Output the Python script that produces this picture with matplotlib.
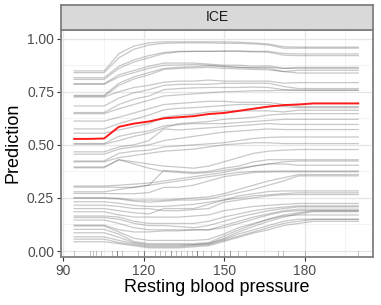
import matplotlib
matplotlib.use("Agg")
import matplotlib.pyplot as plt
from matplotlib.patches import Rectangle

# grid of blood pressure values at which ICE curves are evaluated
bp_grid = [94.0, 99.6, 105.2, 110.7, 116.3, 121.9, 127.5, 133.1, 138.6, 144.2,
           149.8, 155.4, 160.9, 166.5, 172.1, 177.7, 183.3, 188.8, 194.4, 200.0]

ice_curves = [
    [.848,.848,.848,.93,.965,.98,.985,.985,.985,.985,.985,.983,.98,.975,.962,.96,.96,.96,.96,.96],
    [.840,.840,.840,.91,.95,.97,.978,.98,.98,.98,.978,.978,.975,.97,.955,.955,.955,.955,.955,.955],
    [.816,.816,.816,.87,.90,.92,.935,.94,.94,.94,.942,.942,.94,.94,.93,.928,.928,.928,.928,.928],
    [.808,.808,.808,.86,.89,.91,.93,.938,.94,.94,.94,.94,.938,.936,.922,.92,.92,.92,.92,.92],
    [.788,.788,.788,.83,.85,.87,.885,.885,.885,.88,.875,.875,.87,.872,.86,.865,.865,.865,.865,.865],
    [.785,.785,.785,.82,.84,.86,.875,.876,.878,.875,.87,.865,.863,.865,.86,.86,.86,.86,.86,.86],
    [.733,.733,.733,.79,.82,.84,.86,.865,.868,.872,.868,.865,.862,.86,.845,.838,.838,.838,.838,.838],
    [.729,.729,.729,.78,.81,.83,.855,.86,.862,.865,.86,.858,.855,.853,.845,.851,.851,.851,.851,.851],
    [.725,.725,.725,.75,.77,.78,.795,.80,.80,.805,.80,.80,.80,.80,.79,.793,.793,.793,.793,.793],
    [.683,.683,.683,.72,.745,.76,.78,.785,.785,.785,.79,.79,.79,.79,.775,.765,.765,.765,.765,.765],
    [.652,.652,.652,.69,.715,.73,.76,.765,.768,.77,.77,.77,.772,.77,.76,.757,.757,.757,.757,.757],
    [.647,.647,.647,.67,.69,.71,.73,.735,.74,.745,.75,.752,.755,.755,.757,.757,.757,.757,.757,.757],
    [.612,.612,.612,.63,.65,.67,.69,.695,.70,.705,.705,.70,.70,.70,.69,.68,.68,.68,.68,.68],
    [.575,.575,.575,.60,.62,.64,.665,.672,.675,.68,.685,.69,.69,.69,.68,.675,.675,.675,.675,.675],
    [.555,.555,.555,.57,.585,.60,.63,.64,.645,.655,.66,.66,.66,.66,.655,.663,.663,.663,.663,.663],
    [.503,.503,.503,.52,.54,.555,.58,.60,.605,.61,.62,.625,.63,.64,.645,.647,.647,.647,.647,.647],
    [.506,.506,.506,.54,.555,.565,.59,.595,.60,.60,.60,.605,.61,.615,.62,.62,.62,.62,.62,.62],
    [.467,.467,.467,.49,.50,.52,.575,.57,.575,.58,.585,.59,.595,.60,.596,.596,.596,.596,.596,.596],
    [.456,.456,.456,.48,.49,.50,.52,.53,.54,.55,.56,.565,.57,.575,.572,.572,.572,.572,.572,.572],
    [.424,.424,.424,.46,.47,.475,.49,.495,.50,.505,.51,.52,.53,.535,.537,.537,.537,.537,.537,.537],
    [.420,.420,.420,.44,.45,.46,.47,.475,.48,.49,.50,.505,.51,.51,.506,.506,.506,.506,.506,.506],
    [.396,.396,.396,.43,.41,.39,.375,.37,.365,.37,.38,.39,.40,.41,.42,.424,.424,.424,.424,.424],
    [.392,.392,.392,.43,.42,.41,.40,.395,.39,.40,.42,.44,.46,.47,.475,.478,.478,.478,.478,.478],
    [.306,.306,.306,.31,.315,.32,.33,.34,.35,.36,.37,.385,.40,.41,.41,.404,.404,.404,.404,.404],
    [.301,.301,.301,.30,.30,.31,.38,.375,.37,.375,.39,.40,.42,.43,.43,.43,.43,.43,.43,.43],
    [.279,.279,.279,.29,.30,.31,.32,.33,.34,.35,.36,.37,.375,.376,.377,.377,.377,.377,.377,.377],
    [.271,.271,.271,.27,.27,.275,.30,.30,.31,.33,.35,.36,.37,.372,.373,.373,.373,.373,.373,.373],
    [.252,.252,.252,.248,.24,.24,.24,.245,.25,.255,.27,.29,.31,.33,.345,.36,.36,.36,.36,.36],
    [.248,.248,.248,.245,.235,.23,.235,.24,.24,.245,.26,.275,.29,.31,.33,.354,.354,.354,.354,.354],
    [.232,.232,.232,.225,.215,.21,.21,.215,.22,.23,.24,.25,.26,.265,.27,.274,.274,.274,.274,.274],
    [.216,.216,.216,.21,.20,.20,.19,.19,.195,.20,.23,.24,.25,.26,.265,.266,.266,.266,.266,.266],
    [.200,.200,.200,.19,.18,.175,.20,.20,.20,.22,.24,.26,.27,.28,.283,.283,.283,.283,.283,.283],
    [.185,.185,.185,.17,.16,.16,.16,.16,.165,.17,.19,.20,.21,.215,.22,.224,.224,.224,.224,.224],
    [.165,.165,.165,.16,.14,.13,.13,.13,.13,.14,.16,.175,.19,.20,.207,.213,.213,.213,.213,.213],
    [.158,.158,.158,.15,.13,.12,.12,.115,.11,.12,.14,.16,.175,.19,.20,.208,.208,.208,.208,.208],
    [.146,.146,.146,.13,.11,.10,.10,.10,.10,.10,.12,.14,.16,.175,.19,.197,.197,.197,.197,.197],
    [.122,.122,.122,.10,.09,.09,.095,.095,.10,.10,.11,.13,.15,.17,.185,.19,.19,.19,.19,.19],
    [.118,.118,.118,.09,.06,.05,.05,.05,.05,.055,.08,.11,.13,.15,.165,.17,.17,.17,.17,.17],
    [.102,.102,.102,.08,.045,.035,.035,.035,.035,.04,.07,.10,.125,.15,.17,.18,.19,.19,.19,.19],
    [.086,.086,.086,.065,.04,.03,.03,.03,.03,.035,.06,.09,.115,.14,.16,.175,.185,.185,.185,.185],
    [.067,.067,.067,.05,.035,.025,.025,.025,.03,.035,.055,.08,.10,.12,.14,.15,.15,.15,.15,.15],
    [.056,.056,.056,.04,.03,.02,.02,.02,.025,.03,.05,.07,.09,.11,.13,.14,.149,.149,.149,.149],
    [.044,.044,.044,.035,.025,.015,.015,.015,.02,.025,.045,.065,.085,.10,.12,.13,.14,.14,.14,.14],
]

pdp_curve = [.528,.528,.530,.585,.60,.61,.625,.63,.635,.645,.65,.66,.67,.68,.687,.69,.695,.695,.695,.695]

rug_values = [94, 100, 101, 102, 104, 108, 110, 110, 110, 112, 118, 120, 120, 120, 124,
              126, 128, 130, 130, 132, 134, 136, 138, 140, 140, 140, 142, 145, 148, 150,
              152, 152, 155, 158, 170, 172, 180, 200]

x_ticks = [90, 120, 150, 180]
y_ticks = [0.00, 0.25, 0.50, 0.75, 1.00]
y_ticklabels = ["0.00", "0.25", "0.50", "0.75", "1.00"]

plt.rcParams['font.family'] = ['Liberation Sans', 'DejaVu Sans']

W, H = 381, 305
fig = plt.figure(figsize=(W / 100, H / 100), dpi=100)
left, right, top, bottom = 61, 373, 29.5, 257
ax = fig.add_axes([left / W, 1 - bottom / H, (right - left) / W, (bottom - top) / H])

ax.set_xlim(89.1, 205.5)
ax.set_ylim(-0.028, 1.043)

# grid
for v in [105, 135, 165, 195]:
    ax.axvline(v, color='#f0f0f0', lw=0.5, zorder=0)
for v in [0.125, 0.375, 0.625, 0.875]:
    ax.axhline(v, color='#f0f0f0', lw=0.5, zorder=0)
for v in x_ticks:
    ax.axvline(v, color='#e6e6e6', lw=0.9, zorder=0)
for v in y_ticks:
    ax.axhline(v, color='#e6e6e6', lw=0.9, zorder=0)

for curve in ice_curves:
    ax.plot(bp_grid, curve, color='#555555', alpha=0.32, lw=0.9, zorder=2)
ax.plot(bp_grid, pdp_curve, color='#ff1a1a', lw=1.4, zorder=3)

for r in rug_values:
    ax.plot([r, r], [0, 0.025], transform=ax.get_xaxis_transform(),
            color='#555555', alpha=0.35, lw=0.7, zorder=2)

ax.set_xticks(x_ticks)
ax.set_yticks(y_ticks)
ax.set_yticklabels(y_ticklabels)
ax.tick_params(axis='both', length=3, width=0.8, color='#333333',
               labelsize=10, labelcolor='#4d4d4d', pad=2)
for s in ax.spines.values():
    s.set_color('#7f7f7f')
    s.set_linewidth(1.3)

ax.set_xlabel("Resting blood pressure", fontsize=13, labelpad=1)
ax.set_ylabel("Prediction", fontsize=13, labelpad=4)

# facet strip
sax = fig.add_axes([left / W, 1 - top / H, (right - left) / W, (top - 5) / H])
sax.set_xlim(0, 1)
sax.set_ylim(0, 1)
sax.set_xticks([])
sax.set_yticks([])
sax.set_facecolor('#d9d9d9')
for s in sax.spines.values():
    s.set_color('#7f7f7f')
    s.set_linewidth(1.3)
sax.text(0.5, 0.5, "ICE", ha='center', va='center', fontsize=10, color='#1a1a1a')

fig.savefig("out.png", dpi=100)
